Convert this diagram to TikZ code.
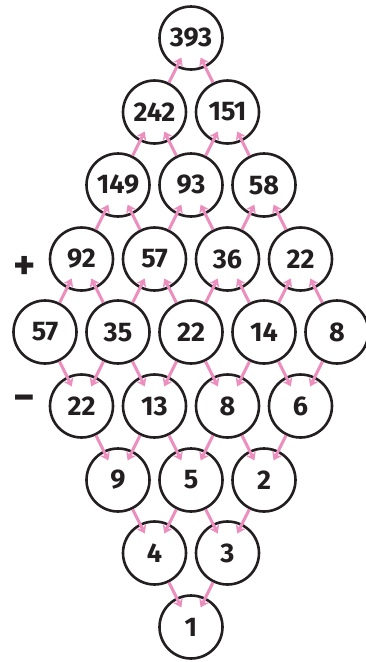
\documentclass[tikz,border=0pt]{standalone}
\usepackage{fontspec}
\setsansfont{Fira Sans}
\usetikzlibrary{arrows.meta}
\definecolor{Ink}{HTML}{231F20}
\definecolor{Rose}{HTML}{EC8FBE}

\begin{document}
\begin{tikzpicture}[
  x=1pt,y=-1pt,
  every node/.style={font=\sffamily\bfseries\fontsize{27}{27}\selectfont,text=Ink},
  ball/.style={draw=Ink,circle,line width=2.6pt,fill=white,minimum size=63pt,inner sep=0pt},
  link/.style={-{Stealth[length=8pt,width=11pt]},line width=3pt,color=Rose,shorten >=-11pt},
  sign/.style={font=\sffamily\bfseries\fontsize{42}{42}\selectfont}
]
\useasboundingbox (0,0) rectangle (366,662);
% sums
\node[ball] (a1) at (191,38) {393};
\node[ball] (b1) at (154.5,112) {242};
\node[ball] (b2) at (227.5,112) {151};
\node[ball] (c1) at (118,185) {149};
\node[ball] (c2) at (191,185) {93};
\node[ball] (c3) at (264,185) {58};
\node[ball] (d1) at (81.5,259) {92};
\node[ball] (d2) at (154.5,259) {57};
\node[ball] (d3) at (227.5,259) {36};
\node[ball] (d4) at (300.5,259) {22};
% start row
\node[ball] (e1) at (45,332) {57};
\node[ball] (e2) at (118,332) {35};
\node[ball] (e3) at (191,332) {22};
\node[ball] (e4) at (264,332) {14};
\node[ball] (e5) at (337,332) {8};
% differences
\node[ball] (f1) at (81.5,406) {22};
\node[ball] (f2) at (154.5,406) {13};
\node[ball] (f3) at (227.5,406) {8};
\node[ball] (f4) at (300.5,406) {6};
\node[ball] (g1) at (118,480) {9};
\node[ball] (g2) at (191,480) {5};
\node[ball] (g3) at (264,480) {2};
\node[ball] (h1) at (154.5,553) {4};
\node[ball] (h2) at (227.5,553) {3};
\node[ball] (i1) at (191,627) {1};
\node[sign] (plus) at (25,268) {+};
\node[sign] (minus) at (24,403) {−};
\draw[link] (b1) -- (a1); \draw[link] (b2) -- (a1);
\draw[link] (c1) -- (b1); \draw[link] (c2) -- (b1);
\draw[link] (c2) -- (b2); \draw[link] (c3) -- (b2);
\draw[link] (d1) -- (c1); \draw[link] (d2) -- (c1);
\draw[link] (d2) -- (c2); \draw[link] (d3) -- (c2);
\draw[link] (d3) -- (c3); \draw[link] (d4) -- (c3);
\draw[link] (e1) -- (d1); \draw[link] (e2) -- (d1);
\draw[link] (e2) -- (d2); \draw[link] (e3) -- (d2);
\draw[link] (e3) -- (d3); \draw[link] (e4) -- (d3);
\draw[link] (e4) -- (d4); \draw[link] (e5) -- (d4);
\draw[link] (e1) -- (f1); \draw[link] (e2) -- (f1);
\draw[link] (e2) -- (f2); \draw[link] (e3) -- (f2);
\draw[link] (e3) -- (f3); \draw[link] (e4) -- (f3);
\draw[link] (e4) -- (f4); \draw[link] (e5) -- (f4);
\draw[link] (f1) -- (g1); \draw[link] (f2) -- (g1);
\draw[link] (f2) -- (g2); \draw[link] (f3) -- (g2);
\draw[link] (f3) -- (g3); \draw[link] (f4) -- (g3);
\draw[link] (g1) -- (h1); \draw[link] (g2) -- (h1);
\draw[link] (g2) -- (h2); \draw[link] (g3) -- (h2);
\draw[link] (h1) -- (i1); \draw[link] (h2) -- (i1);
\end{tikzpicture}
\end{document}
